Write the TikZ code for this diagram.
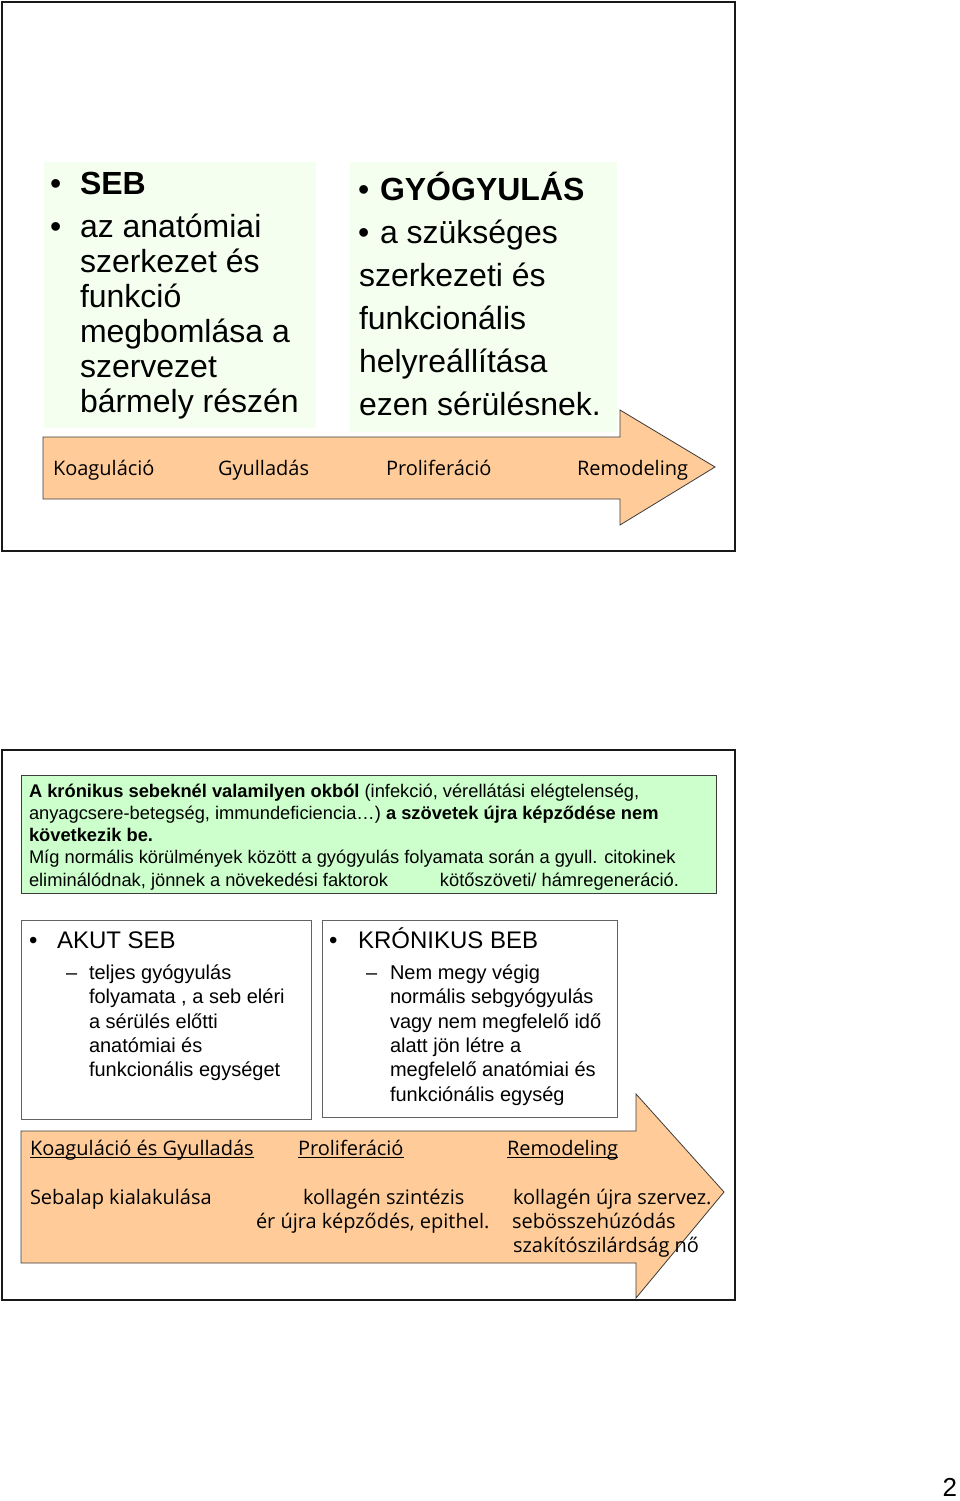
\documentclass[tikz,border=0pt]{standalone}
\usepackage{fontspec}
\setmainfont{Liberation Sans}
\newfontfamily\comic{Open Sans}
\definecolor{paleg}{RGB}{245,255,240}
\definecolor{lgreen}{RGB}{204,255,204}
\definecolor{peach}{RGB}{255,204,153}
\definecolor{edge}{RGB}{60,60,60}
\newcommand\myul[1]{\setbox0\hbox{#1}\rlap{\rule[-2.8pt]{\wd0}{0.9pt}}\box0}
\begin{document}
\begin{tikzpicture}[x=1pt,y=-1pt,
  txt/.style={anchor=base west,inner sep=0pt,outer sep=0pt},
  big/.style={txt,font=\fontsize{32}{35}\selectfont},
  bigb/.style={txt,font=\fontsize{32}{35}\selectfont\bfseries},
  para/.style={txt,font=\fontsize{18.3}{22}\selectfont},
  head/.style={txt,font=\fontsize{24}{28}\selectfont},
  sub/.style={txt,font=\fontsize{20}{24}\selectfont},
  cs/.style={txt,font=\comic\fontsize{20}{24}\selectfont},
  frame/.style={draw=black!90,line width=2.5pt},
  arrowshape/.style={fill=peach,draw=edge,line width=0.8pt}]
\useasboundingbox (0,0) rectangle (960,1501);
\fill[white] (0,0) rectangle (960,1501);

% ---------- slide 1 ----------
\draw[frame] (2,2) rectangle (735,551);
\fill[paleg] (44,162) rectangle (316,428);
\fill[paleg] (350,162) rectangle (617,432);
\draw[arrowshape] (43,437) -- (620,437) -- (620,410) -- (715,467) -- (620,525) -- (620,499) -- (43,499) -- cycle;

\node[big]  (s1b1) at (50,194) {•};
\node[bigb] (s1a)  at (80,194) {SEB};
\node[big]  (s1b2) at (50,237) {•};
\node[big]  (s1l1) at (80,237) {az anatómiai};
\node[big]  (s1l2) at (80,272) {szerkezet és};
\node[big]  (s1l3) at (80,307) {funkció};
\node[big]  (s1l4) at (80,342) {megbomlása a};
\node[big]  (s1l5) at (80,377) {szervezet};
\node[big]  (s1l6) at (80,412) {bármely részén};

\node[big]  (s2b1) at (358,200) {•};
\node[bigb] (s2a)  at (380,200) {GYÓGYULÁS};
\node[big]  (s2b2) at (358,243) {•};
\node[big]  (s2l1) at (380,243) {a szükséges};
\node[big]  (s2l2) at (359,286) {szerkezeti és};
\node[big]  (s2l3) at (359,329) {funkcionális};
\node[big]  (s2l4) at (359,372) {helyreállítása};
\node[big]  (s2l5) at (359,415) {ezen sérülésnek.};

\node[cs] (k1) at (53,475) {Koaguláció};
\node[cs] (g1) at (218,475) {Gyulladás};
\node[cs] (p1) at (386,475) {Proliferáció};
\node[cs] (r1) at (577,475) {Remodeling};

% ---------- slide 2 ----------
\draw[frame] (2,750) rectangle (735,1300);
\draw[fill=lgreen,draw=edge,line width=1pt] (21,775) rectangle (716,893);
\node[para] (t1) at (29,797) {\textbf{A krónikus sebeknél valamilyen okból} (infekció, vérellátási elégtelenség,};
\node[para] (t2) at (29,819) {anyagcsere-betegség, immundeficiencia…) \textbf{a szövetek újra képződése nem}};
\node[para] (t3) at (29,841) {\textbf{következik be.}};
\node[para] (t4) at (29,863) {Míg normális körülmények között a gyógyulás folyamata során a gyull. citokinek};
\node[para] (t5) at (29,886) {\makebox[411pt][l]{eliminálódnak, jönnek a növekedési faktorok}kötőszöveti/ hámregeneráció.};

\draw[fill=white,draw=edge!80,line width=1pt] (21,920) rectangle (311,1119);
\draw[fill=white,draw=edge!80,line width=1pt] (322,920) rectangle (617,1117);

\node[head] (ab) at (29,948) {•};
\node[head] (ah) at (57,948) {AKUT SEB};
\node[sub] (ad) at (66,979) {–};
\node[sub] (a1) at (89,979) {teljes gyógyulás};
\node[sub] (a2) at (89,1003.5) {folyamata , a seb eléri};
\node[sub] (a3) at (89,1028) {a sérülés előtti};
\node[sub] (a4) at (89,1052) {anatómiai és};
\node[sub] (a5) at (89,1076.5) {funkcionális egységet};

\node[head] (kb) at (329,948) {•};
\node[head] (kh) at (358,948) {KRÓNIKUS BEB};
\node[sub] (kd) at (366,979) {–};
\node[sub] (c1) at (390,979) {Nem megy végig};
\node[sub] (c2) at (390,1003.5) {normális sebgyógyulás};
\node[sub] (c3) at (390,1028) {vagy nem megfelelő idő};
\node[sub] (c4) at (390,1052) {alatt jön létre a};
\node[sub] (c5) at (390,1076.5) {megfelelő anatómiai és};
\node[sub] (c6) at (390,1101) {funkciónális egység};

\draw[arrowshape] (21,1131) -- (636,1131) -- (636,1094) -- (724,1192) -- (636,1298) -- (636,1263) -- (21,1263) -- cycle;

\node[cs] (h1) at (30,1155) {\myul{Koaguláció és Gyulladás}};
\node[cs] (h2) at (298,1155) {\myul{Proliferáció}};
\node[cs] (h3) at (507,1155) {\myul{Remodeling}};
\node[cs] (r21) at (30,1204) {Sebalap kialakulása};
\node[cs] (r22) at (303,1204) {kollagén szintézis};
\node[cs] (r23) at (513,1204) {kollagén újra szervez.};
\node[cs] (r32) at (256,1228) {ér újra képződés, epithel.};
\node[cs] (r33) at (512,1228) {sebösszehúzódás};
\node[cs] (r43) at (513,1252) {szakítószilárdság nő};

\node[txt,anchor=base east,font=\fontsize{26}{30}\selectfont] (pg) at (957,1496) {2};
\end{tikzpicture}
\end{document}
